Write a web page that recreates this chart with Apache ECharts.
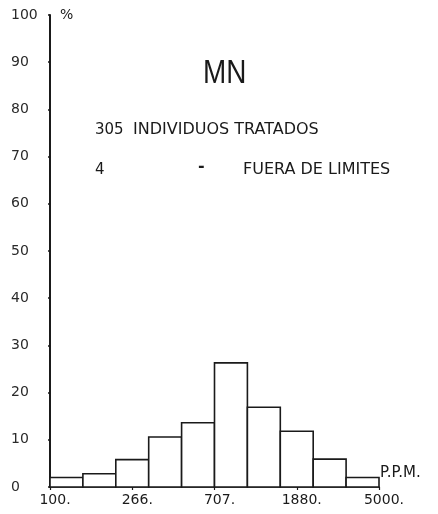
<!DOCTYPE html>
<html>
<head>
<meta charset="utf-8">
<script src="https://cdn.jsdelivr.net/npm/echarts@6/dist/echarts.min.js"></script>
<style>
  html, body { margin: 0; padding: 0; background: #ffffff; }
  #chart { width: 438px; height: 514px; }
</style>
</head>
<body>
<div id="chart"></div>
<script>
// Frequency histogram of MN concentration (log-spaced classes, 100 to 5000 p.p.m.)
const binPercent = [2.0, 2.8, 5.8, 10.6, 13.6, 26.3, 16.9, 11.8, 5.9, 2.0];
const tickLabels = ['100.', '266.', '707.', '1880.', '5000.'];
const tickStep = 2.5;          // class boundaries between labelled ticks
const element = 'MN';
const treatedCount = 305;
const outsideCount = 4;

const ink = '#1a1a1a';
const font = 'DejaVu Sans';

const chart = echarts.init(document.getElementById('chart'), null, { renderer: 'canvas' });

function note(text, x, y, size, weight) {
  return {
    type: 'text', x: x, y: y,
    style: { text: text, fontFamily: font, fontSize: size, fontWeight: weight || 'normal', fill: ink, verticalAlign: 'middle' }
  };
}

chart.setOption({
  backgroundColor: '#ffffff',
  animation: false,
  grid: { left: 50, top: 15, width: 329, height: 472, containLabel: false },
  xAxis: {
    type: 'value',
    min: 0,
    max: binPercent.length,
    interval: tickStep,
    name: 'P.P.M.',
    nameLocation: 'end',
    nameGap: 1,
    nameTextStyle: { color: ink, fontFamily: font, fontSize: 15, align: 'left', verticalAlign: 'bottom', padding: [0, 0, 6, 0] },
    axisLine: { show: true, lineStyle: { color: ink, width: 1.6 } },
    axisTick: { show: true, length: 3, lineStyle: { color: ink, width: 1.2 } },
    axisLabel: {
      color: ink, fontFamily: font, fontSize: 14, margin: 6, padding: [0, 0, 0, 10],
      formatter: v => tickLabels[Math.round(v / tickStep)] ?? ''
    },
    splitLine: { show: false }
  },
  yAxis: {
    type: 'value',
    min: 0,
    max: 100,
    interval: 10,
    name: '%',
    nameLocation: 'end',
    nameGap: 0,
    nameTextStyle: { color: ink, fontFamily: font, fontSize: 14, align: 'left', verticalAlign: 'middle', padding: [0, 0, 0, 10] },
    axisLine: { show: true, lineStyle: { color: ink, width: 2 } },
    axisTick: { show: true, length: 2, lineStyle: { color: ink, width: 1.5 } },
    axisLabel: { color: '#2a2a2a', fontFamily: font, fontSize: 14, margin: 39, align: 'left' },
    splitLine: { show: false }
  },
  series: [{
    type: 'custom',
    data: binPercent.map((v, i) => [i, v]),
    encode: { x: 0, y: 1 },
    renderItem: (params, api) => {
      const i = api.value(0);
      const base = api.coord([i, 0]);
      const top = api.coord([i + 1, api.value(1)]);
      return {
        type: 'rect',
        shape: { x: base[0], y: top[1], width: top[0] - base[0], height: base[1] - top[1] },
        style: { fill: '#ffffff', stroke: ink, lineWidth: 1.6 }
      };
    }
  }],
  graphic: [
    {
      type: 'text', x: 203, y: 74, scaleX: 0.82,
      style: { text: element, fontFamily: 'Liberation Sans', fontSize: 34, fill: ink, verticalAlign: 'middle' }
    },
    note(String(treatedCount), 95, 130, 15),
    note('INDIVIDUOS TRATADOS', 133, 130, 16),
    note(String(outsideCount), 95, 170, 15),
    note('-', 198, 167, 16, 'bold'),
    note('FUERA DE LIMITES', 243, 170, 16)
  ]
});
</script>
</body>
</html>
